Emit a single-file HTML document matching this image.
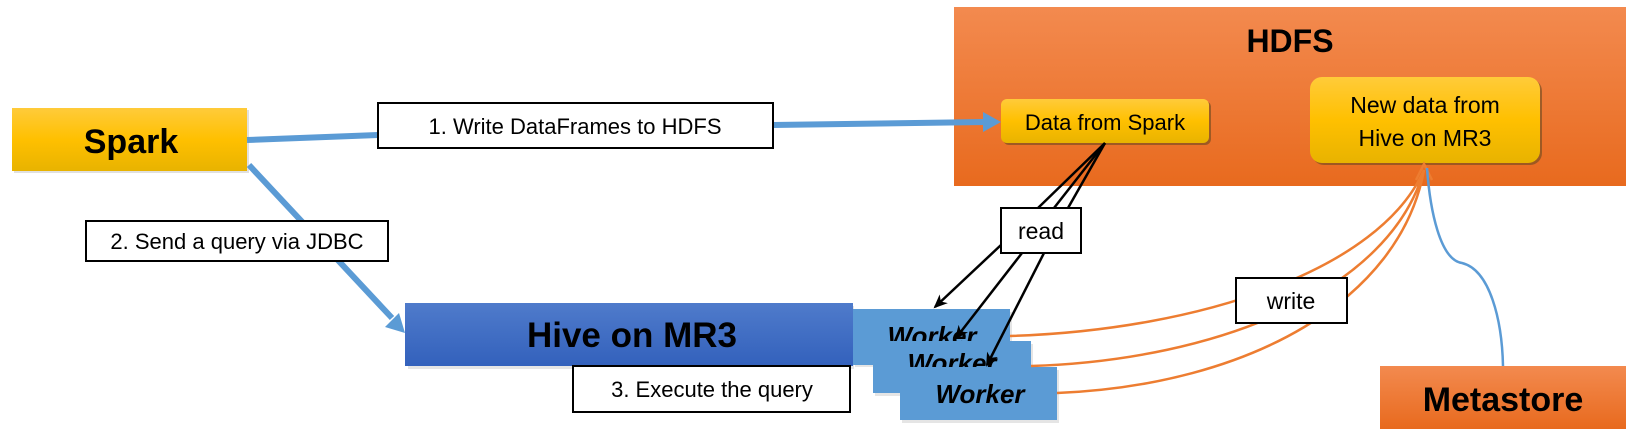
<!DOCTYPE html>
<html><head><meta charset="utf-8"><style>
html,body{margin:0;padding:0;background:#fff;}
svg{display:block;}
text{font-family:"Liberation Sans",sans-serif;}
</style></head><body>
<svg width="1630" height="436" viewBox="0 0 1630 436" xmlns="http://www.w3.org/2000/svg">
<defs>
<linearGradient id="yel" x1="0" y1="0" x2="0" y2="1"><stop offset="0" stop-color="#ffcb3a"/><stop offset="0.5" stop-color="#ffc000"/><stop offset="1" stop-color="#e8b300"/></linearGradient>
<linearGradient id="org" x1="0" y1="0" x2="0" y2="1"><stop offset="0" stop-color="#f38a4f"/><stop offset="1" stop-color="#e86a1e"/></linearGradient>
<linearGradient id="blu" x1="0" y1="0" x2="0" y2="1"><stop offset="0" stop-color="#4f7bcb"/><stop offset="1" stop-color="#3361bc"/></linearGradient>
<marker id="ak" markerWidth="14" markerHeight="12" refX="12" refY="6" orient="auto" markerUnits="userSpaceOnUse"><path d="M0,0 L14,6 L0,12 L4,6 z" fill="#000"/></marker>
</defs>

<!-- HDFS -->
<rect x="954" y="7" width="672" height="179" fill="url(#org)"/>
<text x="1290" y="52" font-size="32" font-weight="bold" text-anchor="middle">HDFS</text>
<rect x="1003" y="101" width="208" height="44" rx="6" fill="#6a4a20" opacity="0.6"/>
<rect x="1001" y="99" width="208" height="44" rx="6" fill="url(#yel)"/>
<text x="1105" y="130" font-size="22" text-anchor="middle">Data from Spark</text>
<rect x="1312" y="79" width="230" height="86" rx="12" fill="#6a4a20" opacity="0.6"/>
<rect x="1310" y="77" width="230" height="86" rx="12" fill="url(#yel)"/>
<text x="1425" y="113" font-size="23" text-anchor="middle">New data from</text>
<text x="1425" y="146" font-size="23" text-anchor="middle">Hive on MR3</text>

<!-- Spark -->
<rect x="14" y="110" width="235" height="63" fill="#ccc" opacity="0.6"/>
<rect x="12" y="108" width="235" height="63" fill="url(#yel)"/>
<text x="131" y="153" font-size="34" font-weight="bold" text-anchor="middle">Spark</text>

<!-- arrows blue -->
<line x1="247" y1="140" x2="378" y2="135" stroke="#5b9bd5" stroke-width="6"/>
<line x1="773" y1="125" x2="985" y2="122" stroke="#5b9bd5" stroke-width="6"/>
<path d="M983,112 L1001,122 L983,132 z" fill="#5b9bd5"/>
<line x1="249" y1="165" x2="392" y2="318" stroke="#5b9bd5" stroke-width="6"/>
<path d="M385,327 L405,333 L399,313 z" fill="#5b9bd5"/>

<rect x="378" y="103" width="395" height="45" fill="#fff" stroke="#000" stroke-width="2"/>
<text x="575" y="134" font-size="22" text-anchor="middle">1. Write DataFrames to HDFS</text>
<rect x="86" y="221" width="302" height="40" fill="#fff" stroke="#000" stroke-width="2"/>
<text x="237" y="249" font-size="22" text-anchor="middle">2. Send a query via JDBC</text>

<!-- Hive -->
<rect x="408" y="306" width="446" height="63" fill="#ccc" opacity="0.5"/>
<rect x="405" y="303" width="448" height="63" fill="url(#blu)"/>
<text x="632" y="347" font-size="35" font-weight="bold" text-anchor="middle">Hive on MR3</text>

<!-- Workers -->
<rect x="855" y="312" width="157" height="55" fill="#ccc" opacity="0.5"/>
<rect x="853" y="309" width="157" height="56" fill="#5b9bd5"/>
<text x="932" y="345" font-size="26" font-weight="bold" font-style="italic" text-anchor="middle">Worker</text>
<rect x="875" y="344" width="158" height="52" fill="#ccc" opacity="0.5"/>
<rect x="873" y="341" width="158" height="52" fill="#5b9bd5"/>
<text x="952" y="372" font-size="26" font-weight="bold" font-style="italic" text-anchor="middle">Worker</text>
<rect x="902" y="370" width="157" height="53" fill="#ccc" opacity="0.5"/>
<rect x="900" y="367" width="157" height="53" fill="#5b9bd5"/>
<text x="980" y="403" font-size="26" font-weight="bold" font-style="italic" text-anchor="middle">Worker</text>

<rect x="573" y="366" width="277" height="46" fill="#fff" stroke="#000" stroke-width="2"/>
<text x="712" y="397" font-size="22" text-anchor="middle">3. Execute the query</text>

<!-- read lines -->
<g stroke="#000" stroke-width="2.5" fill="none">
<line x1="1105" y1="143" x2="1038" y2="208"/>
<line x1="1105" y1="143" x2="1054" y2="208"/>
<line x1="1105" y1="143" x2="1068" y2="208"/>
<line x1="1001" y1="245" x2="935" y2="307" marker-end="url(#ak)"/>
<line x1="1022" y1="253" x2="956" y2="338" marker-end="url(#ak)"/>
<line x1="1044" y1="253" x2="987" y2="365" marker-end="url(#ak)"/>
</g>
<rect x="1001" y="208" width="80" height="45" fill="#fff" stroke="#000" stroke-width="2"/>
<text x="1041" y="239" font-size="23" text-anchor="middle">read</text>

<!-- write curves -->
<g stroke="#ed7d31" stroke-width="2.5" fill="none">
<path d="M1010,336 C1200,330 1380,270 1424,170"/>
<path d="M1031,366 C1220,360 1390,290 1424,170"/>
<path d="M1057,393 C1250,385 1400,300 1424,170"/>
</g>
<path d="M1416,180 L1424,164 L1432,180" stroke="#ed7d31" stroke-width="2.5" fill="none"/>
<path d="M1427,168 C1430,210 1440,260 1462,263 C1490,270 1502,320 1503,366" stroke="#5b9bd5" stroke-width="2.5" fill="none"/>
<rect x="1236" y="278" width="111" height="45" fill="#fff" stroke="#000" stroke-width="2"/>
<text x="1291" y="309" font-size="23" text-anchor="middle">write</text>

<!-- Metastore -->
<rect x="1380" y="366" width="246" height="63" fill="url(#org)"/>
<text x="1503" y="411" font-size="34" font-weight="bold" text-anchor="middle">Metastore</text>
</svg>
</body></html>
